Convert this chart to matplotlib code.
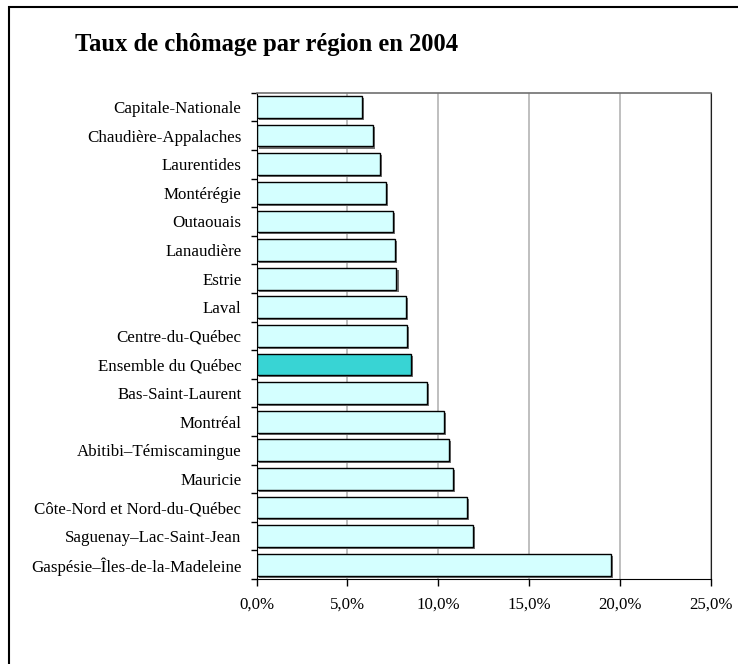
import matplotlib
matplotlib.use("Agg")
import matplotlib.pyplot as plt
import matplotlib.patheffects as pe
from matplotlib.patches import Rectangle

plt.rcParams['font.family'] = ['Liberation Serif', 'DejaVu Serif']

regions = [
    "Capitale-Nationale",
    "Chaudière-Appalaches",
    "Laurentides",
    "Montérégie",
    "Outaouais",
    "Lanaudière",
    "Estrie",
    "Laval",
    "Centre-du-Québec",
    "Ensemble du Québec",
    "Bas-Saint-Laurent",
    "Montréal",
    "Abitibi–Témiscamingue",
    "Mauricie",
    "Côte-Nord et Nord-du-Québec",
    "Saguenay–Lac-Saint-Jean",
    "Gaspésie–Îles-de-la-Madeleine",
]
taux = [5.8, 6.4, 6.8, 7.1, 7.5, 7.6, 7.7, 8.2, 8.3, 8.5, 9.4, 10.3, 10.6, 10.8, 11.6, 11.9, 19.5]
x_ticks = [0, 5, 10, 15, 20, 25]
x_tick_labels = ["0,0%", "5,0%", "10,0%", "15,0%", "20,0%", "25,0%"]
title = "Taux de chômage par région en 2004"

W, H = 738, 664
fig = plt.figure(figsize=(W / 100, H / 100), dpi=100)

# outer frame of the chart area
fig.add_artist(Rectangle((9 / W, -0.05), 1.2, 1 - 7 / H + 0.05, transform=fig.transFigure,
                         fill=False, edgecolor='black', linewidth=1.5))

fig.text(75 / W, 1 - 45 / H, title, fontsize=17.7, fontweight='bold', va='center', ha='left')

ax = fig.add_axes([256.7 / W, 1 - 579 / H, (710.5 - 256.7) / W, (579 - 92.7) / H])

n = len(regions)
ypos = list(range(n))
colors = ['#38d4d4' if r == "Ensemble du Québec" else '#d4ffff' for r in regions]
bars = ax.barh(ypos, taux, height=0.76, color=colors, edgecolor='black', linewidth=1.0, zorder=3)
for b in bars:
    b.set_path_effects([pe.SimplePatchShadow(offset=(1.5, -1.5), shadow_rgbFace='#707070', alpha=1.0),
                        pe.Normal()])

ax.set_xlim(0, 25)
ax.set_ylim(n - 0.5, -0.5)
ax.set_xticks(x_ticks)
ax.set_xticklabels(x_tick_labels, fontsize=12.2)
ax.set_yticks(ypos)
ax.set_yticklabels(regions, fontsize=12.2)
ax.tick_params(axis='y', which='major', length=0, pad=11)
ax.set_yticks([i - 0.5 for i in range(n + 1)], minor=True)
ax.tick_params(axis='y', which='minor', length=4, width=1, direction='out', color='black')
ax.tick_params(axis='x', which='major', length=5, width=1, direction='out', color='black', pad=8)

ax.xaxis.grid(True, color='#b4b4b4', linewidth=1.2, zorder=0)
ax.set_axisbelow(True)
ax.spines['top'].set_color('#707070')
ax.spines['top'].set_linewidth(1.2)
ax.spines['right'].set_color('#202020')
ax.spines['left'].set_color('black')
ax.spines['bottom'].set_color('black')
for s in ax.spines.values():
    s.set_zorder(4)

fig.savefig("out.png", dpi=100)
